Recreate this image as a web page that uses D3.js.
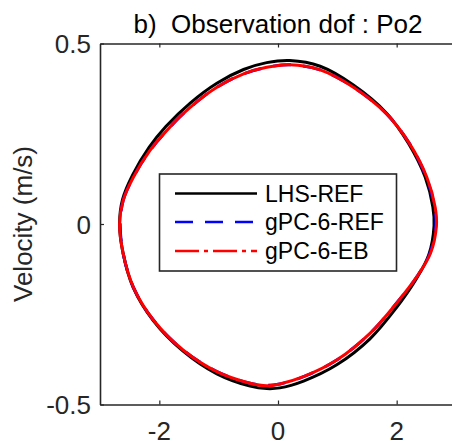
<!DOCTYPE html>
<html>
<head>
<meta charset="utf-8">
<script src="https://cdn.jsdelivr.net/npm/d3@7"></script>
<style>
  body { margin: 0; background: #fff; }
  svg { display: block; font-family: 'Liberation Sans', Arial, sans-serif; }
</style>
</head>
<body>
<script>
// limit cycle, displacement (x) vs velocity (y), traced clockwise
const lhsRefX = [-2.67, -2.62, -2.45, -2.17, -1.89, -1.48, -1.03, -0.58, -0.19, 0.2, 0.71, 1.27, 1.83, 2.2, 2.48, 2.61, 2.63, 2.54, 2.32, 1.99, 1.55, 0.99, 0.43, 0.03, -0.19, -0.47, -1.03, -1.6, -2.1, -2.44, -2.61]
const lhsRefY = [0, 0.068, 0.136, 0.213, 0.27, 0.335, 0.39, 0.428, 0.447, 0.453, 0.437, 0.385, 0.307, 0.223, 0.13, 0.047, -0.005, -0.086, -0.155, -0.233, -0.318, -0.39, -0.435, -0.454, -0.456, -0.449, -0.415, -0.352, -0.268, -0.176, -0.082]

const gpcRefX = [-2.66, -2.61, -2.44, -2.16, -1.88, -1.48, -1.03, -0.58, -0.19, 0.2, 0.71, 1.27, 1.83, 2.22, 2.5, 2.64, 2.66, 2.56, 2.34, 2.0, 1.55, 0.99, 0.43, 0.03, -0.19, -0.47, -1.03, -1.6, -2.1, -2.44, -2.61]
const gpcRefY = [0, 0.065, 0.129, 0.203, 0.258, 0.323, 0.379, 0.416, 0.434, 0.441, 0.427, 0.379, 0.305, 0.222, 0.129, 0.046, -0.005, -0.081, -0.146, -0.219, -0.303, -0.377, -0.423, -0.443, -0.447, -0.441, -0.409, -0.349, -0.266, -0.174, -0.081]

const gpcEbX = [-2.67, -2.61, -2.44, -2.16, -1.88, -1.48, -1.03, -0.58, -0.19, 0.2, 0.71, 1.27, 1.83, 2.22, 2.51, 2.65, 2.67, 2.57, 2.34, 2.0, 1.55, 0.99, 0.43, 0.03, -0.19, -0.47, -1.03, -1.6, -2.1, -2.44, -2.61]
const gpcEbY = [0, 0.065, 0.129, 0.203, 0.258, 0.323, 0.379, 0.416, 0.434, 0.441, 0.427, 0.379, 0.305, 0.222, 0.129, 0.046, -0.005, -0.081, -0.146, -0.219, -0.303, -0.377, -0.423, -0.443, -0.448, -0.441, -0.409, -0.349, -0.266, -0.174, -0.081]

const xTicks = [-2, 0, 2]
const xTickLabels = ['-2', '0', '2']
const yTicks = [-0.5, 0, 0.5]
const yTickLabels = ['-0.5', '0', '0.5']
const legendLabels = ['LHS-REF', 'gPC-6-REF', 'gPC-6-EB']

const width = 452
const height = 441
const axisColor = '#262626'
const plot = { left: 100, top: 43.5, right: 456, bottom: 404.5 }

const svg = d3.select('body')
  .append('svg')
  .attr('width', width)
  .attr('height', height)

const xScale = d3.scaleLinear()
  .domain([-3, 3])
  .range([plot.left, plot.right])
const yScale = d3.scaleLinear()
  .domain([-0.5, 0.5])
  .range([plot.bottom, plot.top])

svg.append('clipPath')
  .attr('id', 'clip')
  .append('rect')
  .attr('x', plot.left)
  .attr('y', plot.top)
  .attr('width', plot.right - plot.left)
  .attr('height', plot.bottom - plot.top)

const zip = (xs, ys) => xs.map((x, i) => [x, ys[i]])

const line = d3.line()
  .x(d => xScale(d[0]))
  .y(d => yScale(d[1]))
  .curve(d3.curveCatmullRomClosed.alpha(0.5))

const series = [
  { name: legendLabels[0], data: zip(lhsRefX, lhsRefY), color: '#000000', dash: null, legendDash: null },
  { name: legendLabels[1], data: zip(gpcRefX, gpcRefY), color: '#0000ff', dash: '18,12', legendDash: '18,12' },
  // dense overlaid cycles make the dash-dot look solid in the plot
  { name: legendLabels[2], data: zip(gpcEbX, gpcEbY), color: '#ff0000', dash: null, legendDash: '24,5,4,5' }
]

const curves = svg.append('g').attr('clip-path', 'url(#clip)')
curves.selectAll('path')
  .data(series)
  .enter()
  .append('path')
  .attr('d', d => line(d.data))
  .attr('fill', 'none')
  .attr('stroke', d => d.color)
  .attr('stroke-width', 3)
  .attr('stroke-dasharray', d => d.dash)

// axes box with inward ticks
const xAxisBottom = d3.axisBottom(xScale).tickValues(xTicks).tickSizeInner(-4).tickSizeOuter(0).tickFormat('')
const xAxisTop = d3.axisTop(xScale).tickValues(xTicks).tickSizeInner(-4).tickSizeOuter(0).tickFormat('')
const yAxisLeft = d3.axisLeft(yScale).tickValues(yTicks).tickSizeInner(-4).tickSizeOuter(0).tickFormat('')
const yAxisRight = d3.axisRight(yScale).tickValues(yTicks).tickSizeInner(-4).tickSizeOuter(0).tickFormat('')

const axes = [
  [xAxisBottom, `translate(0, ${plot.bottom})`],
  [xAxisTop, `translate(0, ${plot.top})`],
  [yAxisLeft, `translate(${plot.left}, 0)`],
  [yAxisRight, `translate(${plot.right}, 0)`]
]
axes.forEach(function (a) {
  const g = svg.append('g')
    .attr('transform', a[1])
    .call(a[0])
  g.select('.domain').attr('stroke', axisColor).attr('stroke-width', 1.6)
  g.selectAll('.tick line').attr('stroke', axisColor).attr('stroke-width', 1.2)
})

// x tick labels sit at the bottom edge, nudged up just enough to stay whole
svg.append('g')
  .selectAll('text')
  .data(xTicks)
  .enter()
  .append('text')
  .text((d, i) => xTickLabels[i])
  .attr('x', d => xScale(d))
  .attr('y', 439.5)
  .attr('text-anchor', 'middle')
  .attr('font-size', '26px')
  .attr('fill', axisColor)

svg.append('g')
  .selectAll('text')
  .data(yTicks)
  .enter()
  .append('text')
  .text((d, i) => yTickLabels[i])
  .attr('x', plot.left - 9)
  .attr('y', d => yScale(d) + 9.5)
  .attr('text-anchor', 'end')
  .attr('font-size', '26px')
  .attr('fill', axisColor)

svg.append('text')
  .text('Velocity (m/s)')
  .attr('transform', `translate(32, ${(plot.top + plot.bottom) / 2}) rotate(-90)`)
  .attr('text-anchor', 'middle')
  .attr('font-size', '26px')
  .attr('fill', axisColor)

svg.append('text')
  .text('b)  Observation dof : Po2')
  .attr('x', (plot.left + plot.right) / 2)
  .attr('y', 33)
  .attr('text-anchor', 'middle')
  .attr('font-size', '26px')
  .attr('fill', '#000')
  .style('white-space', 'pre')

// legend
const legend = svg.append('g')
legend.append('rect')
  .attr('x', 159.5)
  .attr('y', 174)
  .attr('width', 237)
  .attr('height', 97)
  .attr('fill', '#fff')
  .attr('stroke', axisColor)
  .attr('stroke-width', 1.6)

const rowY = [193.5, 222, 251]
const rows = legend.selectAll('g.row')
  .data(series)
  .enter()
  .append('g')
  .attr('class', 'row')
  .attr('transform', (d, i) => `translate(0, ${rowY[i]})`)
rows.append('line')
  .attr('x1', 175)
  .attr('x2', 257)
  .attr('stroke', d => d.color)
  .attr('stroke-width', 2.6)
  .attr('stroke-dasharray', d => d.legendDash)
rows.append('text')
  .text(d => d.name)
  .attr('x', 265)
  .attr('y', 8.3)
  .attr('font-size', '23px')
  .attr('fill', '#000')
</script>
</body>
</html>
